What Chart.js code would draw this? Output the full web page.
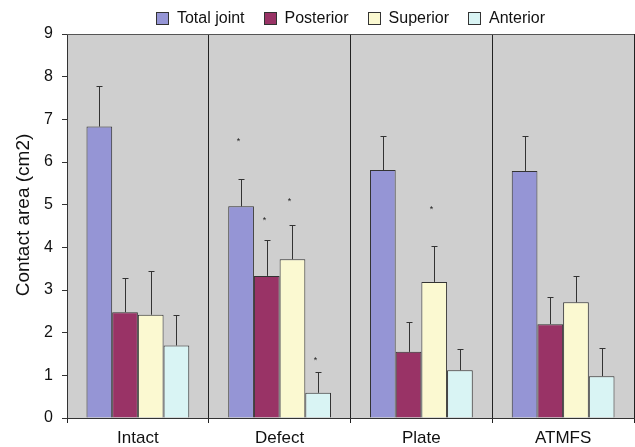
<!DOCTYPE html>
<html>
<head>
<meta charset="utf-8">
<script src="https://cdn.jsdelivr.net/npm/chart.js@4.4.1/dist/chart.umd.min.js"></script>
<style>
  html, body { margin: 0; padding: 0; background: #fff; }
</style>
</head>
<body>
<canvas id="contactChart" width="635" height="447"></canvas>
<script>
const categories = ["Intact", "Defect", "Plate", "ATMFS"];
const seriesNames = ["Total joint", "Posterior", "Superior", "Anterior"];
const yTicks = [0, 1, 2, 3, 4, 5, 6, 7, 8, 9];

const totalJoint = [6.83, 4.96, 5.81, 5.79];
const posterior = [2.48, 3.33, 1.55, 2.20];
const superior = [2.42, 3.72, 3.19, 2.71];
const anterior = [1.70, 0.59, 1.12, 0.98];

// standard deviations (upper error bars only)
const totalJointSd = [0.94, 0.65, 0.80, 0.83];
const posteriorSd = [0.81, 0.84, 0.71, 0.63];
const superiorSd = [1.03, 0.80, 0.84, 0.62];
const anteriorSd = [0.72, 0.48, 0.50, 0.67];

// height of the significance marks, null where there is none
const totalJointStar = [null, 6.53, null, null];
const posteriorStar = [null, 4.67, null, null];
const superiorStar = [null, 5.12, 4.93, null];
const anteriorStar = [null, 1.39, null, null];

const colors = ["#9595d5", "#993366", "#fbf9d1", "#d9f4f4"];
const FONT = "'Liberation Sans', Arial, sans-serif";

const values = [totalJoint, posterior, superior, anterior];
const sds = [totalJointSd, posteriorSd, superiorSd, anteriorSd];
const stars = [totalJointStar, posteriorStar, superiorStar, anteriorStar];

Chart.defaults.font.family = FONT;

const decorations = {
    id: "decorations",
    beforeDraw(chart) {
        const { ctx, chartArea: a } = chart;
        ctx.save();
        ctx.fillStyle = "#cfcfcf";
        ctx.fillRect(a.left, a.top, a.right - a.left, a.bottom - a.top);
        ctx.restore();
    },
    afterDatasetsDraw(chart) {
        const { ctx } = chart;
        const yScale = chart.scales.y;
        ctx.save();
        ctx.strokeStyle = "#333";
        ctx.lineWidth = 1;
        chart.data.datasets.forEach((ds, d) => {
            const meta = chart.getDatasetMeta(d);
            meta.data.forEach((bar, i) => {
                const x = Math.round(bar.x) + 0.5;
                const top = Math.round(yScale.getPixelForValue(values[d][i] + sds[d][i])) + 0.5;
                ctx.beginPath();
                ctx.moveTo(x, bar.y);
                ctx.lineTo(x, top);
                ctx.moveTo(x - 3, top);
                ctx.lineTo(x + 3, top);
                ctx.stroke();
                if (stars[d][i] !== null) {
                    ctx.fillStyle = "#222";
                    ctx.font = "9px " + FONT;
                    ctx.textAlign = "center";
                    ctx.textBaseline = "middle";
                    ctx.fillText("*", x - 3, yScale.getPixelForValue(stars[d][i]) + 2);
                }
            });
        });
        ctx.restore();
    },
    afterDraw(chart) {
        const { ctx, chartArea: a } = chart;
        ctx.save();
        // top frame line
        ctx.strokeStyle = "#555";
        ctx.beginPath();
        ctx.moveTo(a.left, a.top + 0.5);
        ctx.lineTo(a.right, a.top + 0.5);
        ctx.stroke();

        // legend
        ctx.font = "16px " + FONT;
        const box = 13, gap = 8, spacing = 19;
        const widths = seriesNames.map(n => ctx.measureText(n).width);
        let total = 0;
        widths.forEach((w, i) => { total += box + gap + w + (i < widths.length - 1 ? spacing : 0); });
        let x = (a.left + a.right) / 2 - total / 2;
        const cy = 19;
        ctx.textBaseline = "middle";
        ctx.textAlign = "left";
        seriesNames.forEach((name, i) => {
            ctx.fillStyle = colors[i];
            ctx.fillRect(Math.round(x), cy - 7, box, box);
            ctx.strokeStyle = "#333";
            ctx.strokeRect(Math.round(x) + 0.5, cy - 6.5, box - 1, box - 1);
            ctx.fillStyle = "#111";
            ctx.fillText(name, x + box + gap, cy);
            x += box + gap + widths[i] + spacing;
        });

        // y axis title
        ctx.translate(24, 215);
        ctx.rotate(-Math.PI / 2);
        ctx.font = "19px " + FONT;
        ctx.textAlign = "center";
        ctx.fillStyle = "#111";
        ctx.fillText("Contact area (cm2)", 0, 0);
        ctx.restore();
    }
};

new Chart(document.getElementById("contactChart"), {
    type: "bar",
    data: {
        labels: categories,
        datasets: seriesNames.map((name, i) => ({
            label: name,
            data: values[i],
            backgroundColor: colors[i],
            borderColor: "#333",
            borderWidth: 1,
            categoryPercentage: 0.725,
            barPercentage: 1.0,
        })),
    },
    options: {
        responsive: false,
        animation: false,
        devicePixelRatio: 1,
        layout: { padding: { top: 34, right: 1, left: 0, bottom: 0 } },
        plugins: {
            legend: { display: false },
            tooltip: { enabled: false },
        },
        scales: {
            x: {
                grid: { offset: true, color: "#222", tickLength: 5 },
                border: { color: "#333" },
                ticks: { color: "#111", font: { size: 17 }, padding: 5 },
                afterFit(scale) { scale.height = 29; },
            },
            y: {
                min: 0,
                max: 9,
                afterBuildTicks(scale) { scale.ticks = yTicks.map(v => ({ value: v })); },
                grid: { drawOnChartArea: false, color: "#333", tickLength: 5 },
                border: { color: "#333" },
                ticks: { color: "#111", font: { size: 16 }, padding: 9 },
                afterFit(scale) { scale.width = 67; },
            },
        },
    },
    plugins: [decorations],
});
</script>
</body>
</html>
